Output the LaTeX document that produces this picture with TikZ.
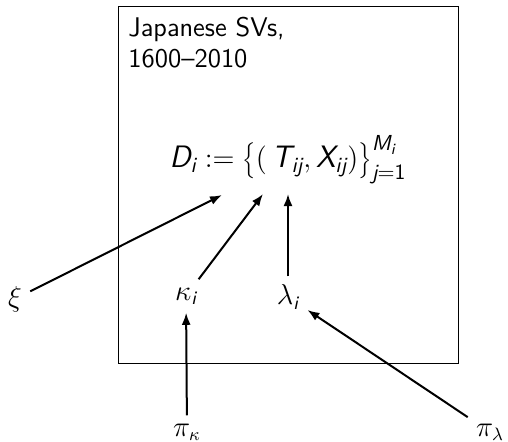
\documentclass[tikz,border=0pt]{standalone}
\usetikzlibrary{arrows.meta}
\DeclareMathAlphabet{\mathsfit}{TU}{lmss}{m}{sl}
\DeclareMathAlphabet{\mathsfup}{TU}{lmss}{m}{n}
\begin{document}
\begin{tikzpicture}[x=0.5pt,y=-0.5pt,
  lbl/.style={inner sep=1pt,font=\fontsize{13.5}{15.5}\selectfont},
  slbl/.style={lbl,font=\fontsize{13.5}{15.5}\selectfont\sffamily},
  flbl/.style={lbl,font=\fontsize{15.5}{18}\selectfont\sffamily},
  arr/.style={-{Latex[length=6pt,width=4.5pt]},line width=1pt},
  plate/.style={draw,line width=0.5pt}]
\useasboundingbox (0,0) rectangle (508,441);
\draw[plate] (118,6) rectangle (458,363);
\node[slbl,anchor=north west,align=left] (title) at (126,15) {Japanese SVs,\\1600--2010};
\node[flbl,inner sep=3pt] (D) at (288,160) {$\mathsfit{D}_{\mathsfit{i}} \mathrel{:=} \left\{\vrule height 10.5pt depth 5pt width 0pt \left(\,\mathsfit{T}_{\mathsfit{ij}}, \mathsfit{X}_{\mathsfit{ij}}\right)\right\}_{\mathsfit{j}=\mathsfup{1}}^{\mathsfit{M}_{\mathsfit{i}}}$};
\node[lbl,inner sep=4pt] (xi) at (15,299) {$\xi$};
\node[slbl,inner sep=4pt] (kappa) at (186,296) {$\kappa_{\mathsfit{i}}$};
\node[slbl,inner sep=4pt] (lambda) at (288,297) {$\lambda_{\mathsfit{i}}$};
\node[lbl,inner sep=4pt] (pik) at (187,432) {$\pi_\kappa$};
\node[lbl,inner sep=4pt] (pil) at (490,432) {$\pi_\lambda$};
\coordinate (dxi) at (222,195);
\coordinate (dk) at (263,194);
\coordinate (dl) at (288,194);
\draw[arr] (xi) -- (dxi);
\draw[arr] (kappa) -- (dk);
\draw[arr] (lambda) -- (dl);
\draw[arr] (pik) -- (kappa);
\draw[arr] (pil) -- (lambda);
\end{tikzpicture}
\end{document}
